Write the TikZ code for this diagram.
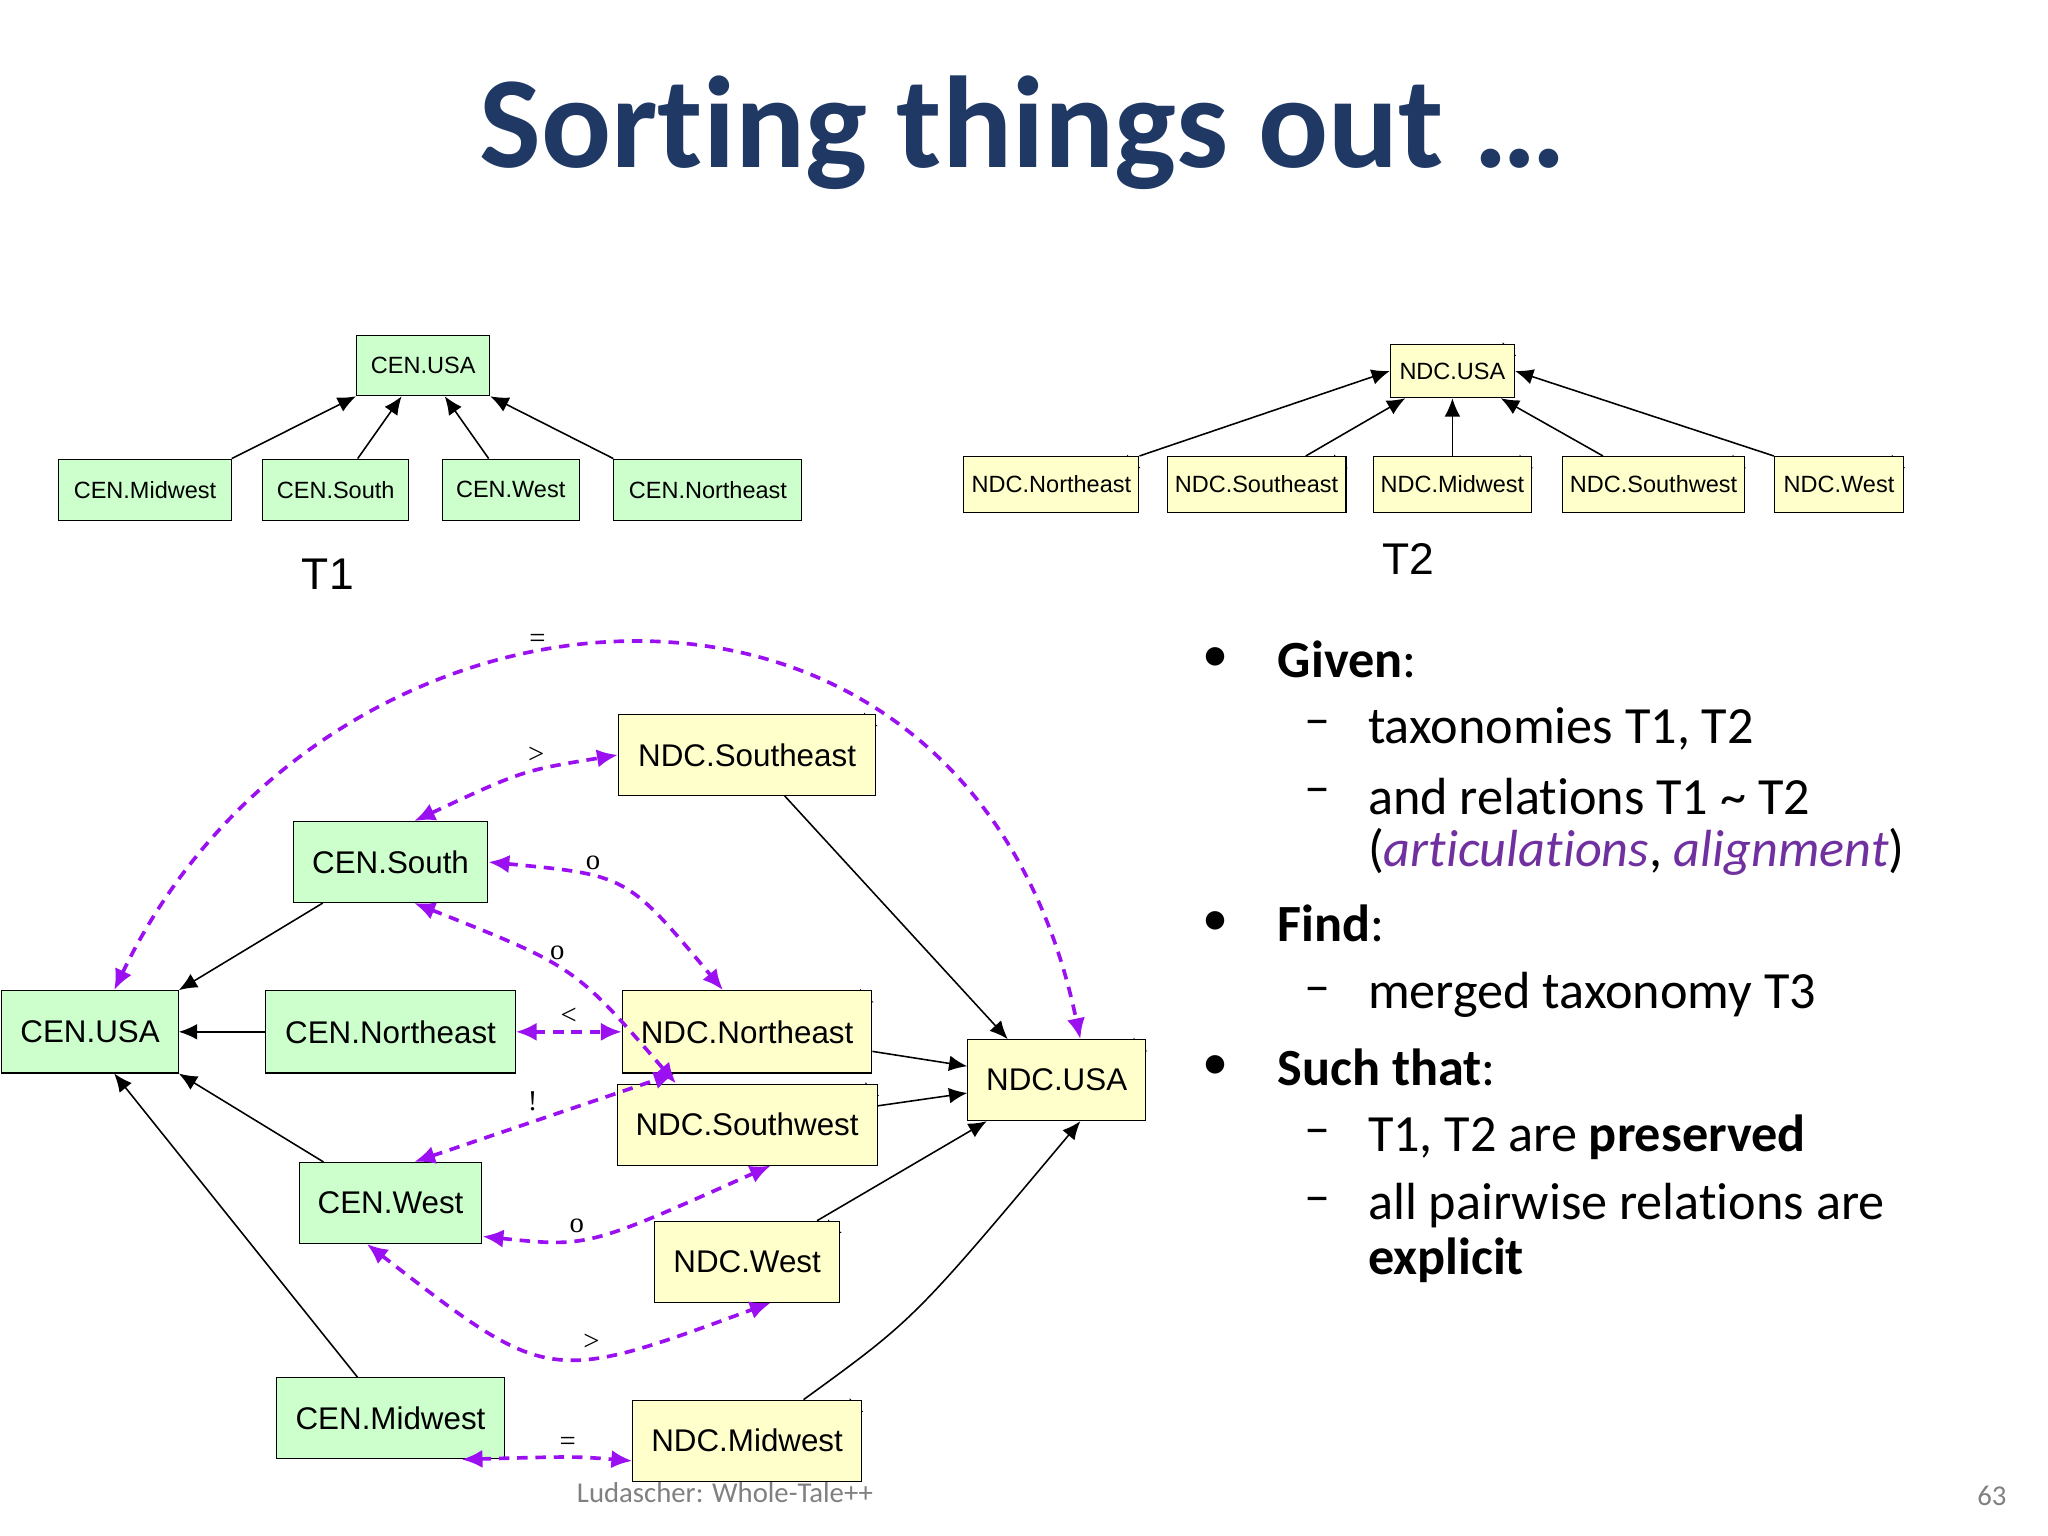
\documentclass[tikz,border=0pt]{standalone}
\usepackage{fontspec}
\setmainfont[Ligatures={NoCommon}]{Carlito}
\newfontfamily\arialfont{Liberation Sans}
\newfontfamily\timesfont{Liberation Serif}
\usepackage{tikz}
\usetikzlibrary{positioning, calc, arrows.meta}
\definecolor{cenfill}{HTML}{CCFFCC}
\definecolor{ndcfill}{HTML}{FFFFCC}
\definecolor{titleblue}{HTML}{1F3864}
\definecolor{relpurple}{HTML}{9B10F0}
\definecolor{artic}{HTML}{7030A0}
\tikzset{
  cen/.style = {draw, fill=cenfill, font=\arialfont\fontsize{12}{14}\selectfont, inner sep=0pt},
  ndc/.style = {draw, fill=ndcfill, font=\arialfont\fontsize{12}{14}\selectfont, inner sep=0pt,
    append after command={
      \pgfextra{\draw[fill=white] ($(\tikzlastnode.north east)+(-9,0)$) -- ($(\tikzlastnode.north east)+(0,9)$)
        -- ($(\tikzlastnode.north east)+(-9,9)$) -- cycle;}}},
  small/.style = {font=\arialfont\fontsize{9}{11}\selectfont},
  tree/.style = {-{Latex[length=7pt,width=6pt]}, semithick},
  rel/.style = {{Latex[length=8pt,width=7pt]}-{Latex[length=8pt,width=7pt]}, relpurple, line width=1.4pt, dash pattern=on 4pt off 3pt},
  rlabel/.style = {font=\timesfont\fontsize{11}{13}\selectfont, inner sep=2pt, text=black},
  bullet/.style = {anchor=west, font=\fontsize{20}{24}\selectfont, inner sep=0pt}
}
\begin{document}
\begin{tikzpicture}[x=0.5pt, y=-0.5pt]
  \useasboundingbox (0,0) rectangle (1568,1176);
  \node[font=\bfseries\fontsize{50}{56}\selectfont, text=titleblue] (title) at (783,102) {Sorting things out \dots};
  %% T1
  \node[cen, small, minimum width=51pt, minimum height=23pt] (t1usa) at (324,280) {CEN.USA};
  \node[cen, small, minimum width=66pt, minimum height=23.5pt] (t1mw) at (111,375) {CEN.Midwest};
  \node[cen, small, minimum width=56pt, minimum height=23.5pt] (t1s) at (257,375) {CEN.South};
  \node[cen, small, minimum width=52.5pt, minimum height=23.5pt] (t1w) at (391,375) {CEN.West};
  \node[cen, small, minimum width=72pt, minimum height=23.5pt] (t1ne) at (542,375) {CEN.Northeast};
  \node[font=\arialfont\fontsize{17}{20}\selectfont] (t1) at (251,440) {T1};
  \draw[tree] (t1mw.north east) -- (t1usa.south west);
  \draw[tree] (t1s) -- (t1usa);
  \draw[tree] (t1w) -- (t1usa);
  \draw[tree] (t1ne.north west) -- (t1usa.south east);
  %% T2
  \node[ndc, small, minimum width=47.5pt, minimum height=20.5pt] (t2usa) at (1112,284) {NDC.USA};
  \node[ndc, small, minimum width=67pt, minimum height=21.5pt] (t2ne) at (805,371) {NDC.Northeast};
  \node[ndc, small, minimum width=68.5pt, minimum height=21.5pt] (t2se) at (962,371) {NDC.Southeast};
  \node[ndc, small, minimum width=60.5pt, minimum height=21.5pt] (t2mw) at (1112,371) {NDC.Midwest};
  \node[ndc, small, minimum width=69.5pt, minimum height=21.5pt] (t2sw) at (1266,371) {NDC.Southwest};
  \node[ndc, small, minimum width=49.5pt, minimum height=21.5pt] (t2w) at (1408,371) {NDC.West};
  \node[font=\arialfont\fontsize{17}{20}\selectfont] (t2) at (1078,428) {T2};
  \draw[tree] (t2ne.north east) -- (t2usa.west);
  \draw[tree] (t2se) -- (t2usa);
  \draw[tree] (t2mw) -- (t2usa);
  \draw[tree] (t2sw) -- (t2usa);
  \draw[tree] (t2w.north west) -- (t2usa.east);
  %% merged T3
  \node[cen, minimum width=67.5pt, minimum height=31.5pt] (usa) at (69,790) {CEN.USA};
  \node[cen, minimum width=74.5pt, minimum height=31pt] (south) at (299,660) {CEN.South};
  \node[cen, minimum width=95.5pt, minimum height=31.5pt] (ne) at (299,790) {CEN.Northeast};
  \node[cen, minimum width=70pt, minimum height=31pt] (west) at (299,921) {CEN.West};
  \node[cen, minimum width=87pt, minimum height=31pt] (mw) at (299,1086) {CEN.Midwest};
  \node[ndc, minimum width=98.5pt, minimum height=31pt] (nse) at (572,578) {NDC.Southeast};
  \node[ndc, minimum width=95.5pt, minimum height=31.5pt] (nne) at (572,790) {NDC.Northeast};
  \node[ndc, minimum width=99.5pt, minimum height=31pt] (nsw) at (572,861) {NDC.Southwest};
  \node[ndc, minimum width=71pt, minimum height=31pt] (nw) at (572,966) {NDC.West};
  \node[ndc, minimum width=87.5pt, minimum height=31pt] (nmw) at (572,1103) {NDC.Midwest};
  \node[ndc, minimum width=68pt, minimum height=31pt] (nusa) at (809,827) {NDC.USA};
  %% is-a edges
  \draw[tree] (south) -- (usa.north east);
  \draw[tree] (ne) -- (usa);
  \draw[tree] (west) -- (usa.south east);
  \draw[tree] (mw) -- (usa.-60);
  \draw[tree] (nse) -- (nusa.140);
  \draw[tree] (nne) -- (nusa);
  \draw[tree] (nsw) -- (nusa);
  \draw[tree] (nw) -- (nusa);
  \draw[tree] (nmw) .. controls (700,1010) .. (nusa.-60);
  %% articulations
  \draw[rel] (usa.60) .. controls (250,420) and (740,380) .. (nusa.60) node[pos=0.42, rlabel, above] {=};
  \draw[rel] (south.60) .. controls (400,590) .. (nse.west) node[pos=0.6, rlabel, above] {>};
  \draw[rel] (south.east) .. controls (480,670) .. (nne.120) node[pos=0.35, rlabel, above] {o};
  \draw[rel] (south.-60) .. controls (440,740) .. (nsw.150) node[pos=0.45, rlabel, above] {o};
  \draw[rel] (ne) -- (nne) node[midway, rlabel, above] {<};
  \draw[rel] (west.60) -- (nne.-150) node[midway, rlabel, above left] {!};
  \draw[rel] (west.-20) .. controls (450,955) .. (nsw.-60) node[pos=0.4, rlabel, above] {o};
  \draw[rel] (west.-120) .. controls (420,1060) .. (nw.-60) node[pos=0.62, rlabel, above] {>};
  \draw[rel] (mw.-30) .. controls (440,1115) .. (nmw.-170) node[midway, rlabel, above] {=};
  %% text
  \node[bullet] (b1) at (920,505) {\textbullet};
  \node[bullet] (g) at (978,505) {\textbf{Given}:};
  \node[bullet] (d1) at (998,558) {\textendash};
  \node[bullet] (g1) at (1047,558) {taxonomies T1, T2};
  \node[bullet] (d2) at (998,610) {\textendash};
  \node[bullet] (g2) at (1047,610) {and relations T1 \char`~\ T2};
  \node[bullet] (g3) at (1047,652) {(\textcolor{artic}{\textit{articulations}}, \textcolor{artic}{\textit{alignment}})};
  \node[bullet] (b2) at (920,707) {\textbullet};
  \node[bullet] (f) at (978,707) {\textbf{Find}:};
  \node[bullet] (d3) at (998,762) {\textendash};
  \node[bullet] (f1) at (1047,762) {merged taxonomy T3};
  \node[bullet] (b3) at (920,817) {\textbullet};
  \node[bullet] (s) at (978,817) {\textbf{Such that}:};
  \node[bullet] (d4) at (998,871) {\textendash};
  \node[bullet] (s1) at (1047,871) {T1, T2 are \textbf{preserved}};
  \node[bullet] (d5) at (998,923) {\textendash};
  \node[bullet] (s2) at (1047,923) {all pairwise relations are};
  \node[bullet] (s3) at (1047,965) {\textbf{explicit}};
  \node[font=\fontsize{11}{13}\selectfont, text=gray] (foot) at (555,1143) {Ludascher: Whole-Tale++};
  \node[font=\fontsize{11}{13}\selectfont, text=gray] (page) at (1525,1145) {63};
\end{tikzpicture}
\end{document}
